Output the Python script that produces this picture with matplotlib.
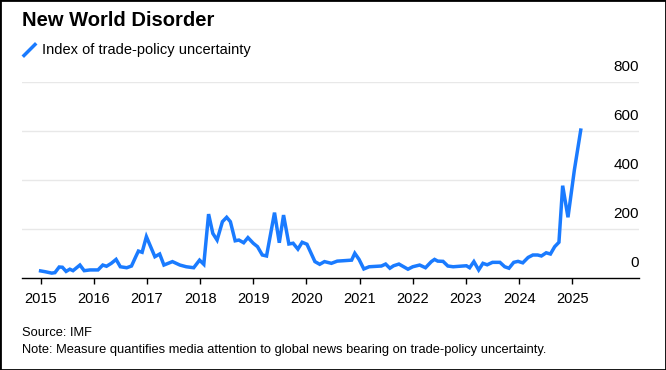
import numpy as np
import matplotlib.pyplot as plt
from matplotlib.patches import Rectangle
from matplotlib.lines import Line2D
import matplotlib.transforms as mtransforms

plt.rcParams['font.family'] = ['Liberation Sans', 'DejaVu Sans']

# decimal year / index value
years = [2015.00, 2015.08, 2015.21, 2015.27, 2015.35, 2015.41, 2015.48, 2015.55, 2015.61, 2015.74,
         2015.82, 2015.93, 2016.08, 2016.17, 2016.24, 2016.33, 2016.42, 2016.50, 2016.62, 2016.71,
         2016.79, 2016.84, 2016.91, 2016.99, 2017.07, 2017.15, 2017.24, 2017.32, 2017.48, 2017.62,
         2017.74, 2017.88, 2017.99, 2018.07, 2018.16, 2018.24, 2018.32, 2018.42, 2018.50, 2018.57,
         2018.66, 2018.73, 2018.82, 2018.90, 2019.00, 2019.08, 2019.17, 2019.25, 2019.40, 2019.49,
         2019.57, 2019.67, 2019.75, 2019.84, 2019.92, 2020.01, 2020.16, 2020.25, 2020.34, 2020.47,
         2020.58, 2020.72, 2020.85, 2020.91, 2020.99, 2021.08, 2021.18, 2021.41, 2021.49, 2021.57,
         2021.64, 2021.74, 2021.91, 2022.00, 2022.13, 2022.24, 2022.35, 2022.41, 2022.47, 2022.57,
         2022.66, 2022.76, 2022.94, 2023.01, 2023.07, 2023.15, 2023.24, 2023.32, 2023.40, 2023.50,
         2023.64, 2023.73, 2023.81, 2023.90, 2023.98, 2024.07, 2024.17, 2024.26, 2024.35, 2024.42,
         2024.51, 2024.59, 2024.67, 2024.75, 2024.82, 2024.92, 2025.04, 2025.16]
tpu = [29, 26, 20, 22, 45, 44, 27, 36, 30, 53,
       30, 33, 33, 53, 48, 60, 76, 46, 42, 49,
       87, 110, 105, 169, 128, 87, 98, 53, 67, 53,
       46, 42, 73, 56, 261, 182, 155, 230, 248, 230,
       152, 155, 144, 165, 142, 128, 94, 90, 267, 144,
       257, 139, 142, 118, 146, 138, 67, 56, 67, 60,
       69, 71, 73, 101, 76, 37, 46, 49, 57, 40,
       50, 57, 36, 46, 53, 42, 67, 76, 69, 68,
       49, 46, 49, 50, 42, 67, 33, 60, 54, 64,
       64, 46, 40, 64, 68, 62, 84, 94, 94, 90,
       103, 98, 128, 146, 377, 248, 441, 604]

xticks = list(range(2015, 2026))
yticks = [0, 200, 400, 600, 800]

blue = '#1a7bff'

fig = plt.figure(figsize=(6.66, 3.70), dpi=100)
ax = fig.add_axes([0.033, 0.2486, 0.926, 0.5295])

ax.plot(years, tpu, color=blue, lw=2.5, solid_joinstyle='miter', zorder=3)

ax.set_xlim(2014.65, 2026.25)
ax.set_ylim(0, 800)
ax.set_xticks(xticks)
ax.set_xticklabels([str(y) for y in xticks], fontsize=10.5)
ax.set_yticks(yticks)
ax.grid(axis='y', color='#e8e8e8', lw=1)
ax.set_axisbelow(True)
for s in ['top', 'left', 'right']:
    ax.spines[s].set_visible(False)
ax.spines['bottom'].set_linewidth(1)
ax.tick_params(axis='x', length=4, width=1, pad=6, colors='black')

ax.yaxis.tick_right()
ax.tick_params(axis='y', length=0, pad=0, labelsize=11)
offset = mtransforms.ScaledTranslation(0, 8 / 100, fig.dpi_scale_trans)
for lbl in ax.get_yticklabels():
    lbl.set_horizontalalignment('right')
    lbl.set_verticalalignment('bottom')
    lbl.set_transform(lbl.get_transform() + offset)
# hide gridline at 0 (axis line drawn instead)
ax.get_ygridlines()[0].set_visible(False)

fig.text(22 / 666, 1 - 21 / 370, 'New World Disorder', fontsize=14.5, fontweight='bold', va='center')
fig.add_artist(Line2D([24 / 666, 35 / 666], [1 - 55.5 / 370, 1 - 44.5 / 370], color=blue, lw=2.5,
                      transform=fig.transFigure))
fig.text(42 / 666, 1 - 50 / 370, 'Index of trade-policy uncertainty', fontsize=10.5, va='center')

fig.text(22 / 666, 1 - 333 / 370, 'Source: IMF', fontsize=9.3, va='center')
fig.text(22 / 666, 1 - 350 / 370,
         'Note: Measure quantifies media attention to global news bearing on trade-policy uncertainty.',
         fontsize=9.3, va='center')

fig.add_artist(Rectangle((0, 0), 1, 1, transform=fig.transFigure, fill=False, edgecolor='black', lw=2))

fig.savefig('out.png', dpi=100)
